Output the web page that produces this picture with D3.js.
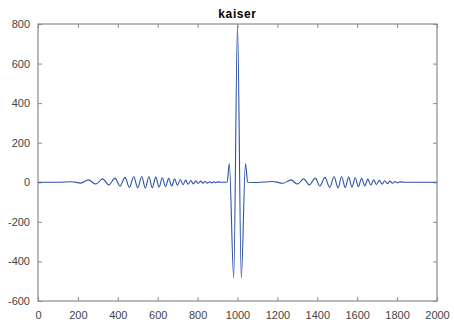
<!DOCTYPE html>
<html>
<head>
<meta charset="utf-8">
<script src="https://cdn.jsdelivr.net/npm/d3@7"></script>
<style>
  body { margin: 0; background: #fff; }
  svg { display: block; font-family: "Liberation Sans", Arial, sans-serif; }
</style>
</head>
<body>
<div id="chart"></div>
<script>
// sample points (x = sample index, y = amplitude)
const sampleX = [0, 100, 170, 215, 252, 290, 324, 355, 386, 411, 436, 458, 480, 500, 520, 538, 556, 573,
  590, 607, 623, 639, 655, 670, 685, 699, 713, 727, 740, 753, 766, 779, 791, 803, 815, 827, 838, 849,
  860, 871, 881, 891, 901, 920, 948, 959, 981, 1000, 1019, 1040, 1051, 1100, 1175, 1228, 1268, 1300,
  1332, 1360, 1390, 1413, 1438, 1462, 1484, 1504, 1522, 1540, 1557, 1574, 1590, 1606, 1622, 1638, 1653,
  1668, 1683, 1697, 1711, 1725, 1738, 1751, 1764, 1777, 1790, 1802, 1815, 1840, 1900, 2000];
const sampleY = [0, 0, 3, -4, 12, -9, 17, -13, 21, -19, 25, -26, 28, -28, 29, -29, 28, -28,
  26, -25, 23, -22, 20, -19, 17, -15, 14, -12, 11, -10, 9, -8, 7, -6, 6, -5, 4, -4,
  3, -3, 2, -2, 2, 0, 0, 95, -485, 795, -485, 95, 0, -1, 4, -5, 12, -9, 17,
  -13, 21, -19, 25, -26, 28, -28, 28, -27, 26, -25, 23, -22, 20, -18, 16,
  -14, 12, -11, 10, -9, 8, -7, 6, -5, 4, -3, 2, 0, 0, 0];

const xTicks = [0, 200, 400, 600, 800, 1000, 1200, 1400, 1600, 1800, 2000];
const yTicks = [-600, -400, -200, 0, 200, 400, 600, 800];

const data = sampleX.map((x, i) => ({ x: x, y: sampleY[i] }));

const width = 454, height = 328;
const margin = { top: 24, right: 17, bottom: 27, left: 38 };
const w = width - margin.left - margin.right;
const h = height - margin.top - margin.bottom;

const svg = d3.select("#chart").append("svg")
    .attr("width", width)
    .attr("height", height);

const g = svg.append("g")
    .attr("transform", `translate(${margin.left},${margin.top})`);

const xScale = d3.scaleLinear().domain([0, 2000]).range([0, w]);
const yScale = d3.scaleLinear().domain([-600, 800]).range([h, 0]);

const axisColor = "#8a8a8a";
const textColor = "#444444";
const plain = d => String(d); // no thousands comma, plain hyphen minus

function styleAxis(sel, showText) {
  sel.select(".domain").remove();
  sel.selectAll(".tick line").attr("stroke", axisColor);
  sel.selectAll(".tick text")
      .attr("fill", textColor)
      .style("font-size", "11px")
      .style("display", showText ? null : "none");
}

g.append("g")
    .attr("transform", `translate(0,${h})`)
    .call(d3.axisBottom(xScale).tickValues(xTicks).tickFormat(plain).tickSizeInner(-4).tickPadding(10))
    .call(s => styleAxis(s, true));

g.append("g")
    .call(d3.axisTop(xScale).tickValues(xTicks).tickSizeInner(-4))
    .call(s => styleAxis(s, false));

g.append("g")
    .call(d3.axisLeft(yScale).tickValues(yTicks).tickFormat(plain).tickSizeInner(-4).tickPadding(8))
    .call(s => styleAxis(s, true));

g.append("g")
    .attr("transform", `translate(${w},0)`)
    .call(d3.axisRight(yScale).tickValues(yTicks).tickSizeInner(-4))
    .call(s => styleAxis(s, false));

g.append("rect")
    .attr("width", w)
    .attr("height", h)
    .attr("fill", "none")
    .attr("stroke", axisColor)
    .attr("stroke-width", 1.2);

const line = d3.line()
    .x(d => xScale(d.x))
    .y(d => yScale(d.y))
    .curve(d3.curveMonotoneX);

g.append("path")
    .datum(data)
    .attr("fill", "none")
    .attr("stroke", "#2b52a6")
    .attr("stroke-width", 1.1)
    .attr("d", line);

svg.append("text")
    .attr("x", margin.left + w / 2)
    .attr("y", 18)
    .attr("text-anchor", "middle")
    .style("font-size", "12px")
    .style("font-weight", "bold")
    .style("letter-spacing", "0.6px")
    .text("kaiser");
</script>
</body>
</html>
